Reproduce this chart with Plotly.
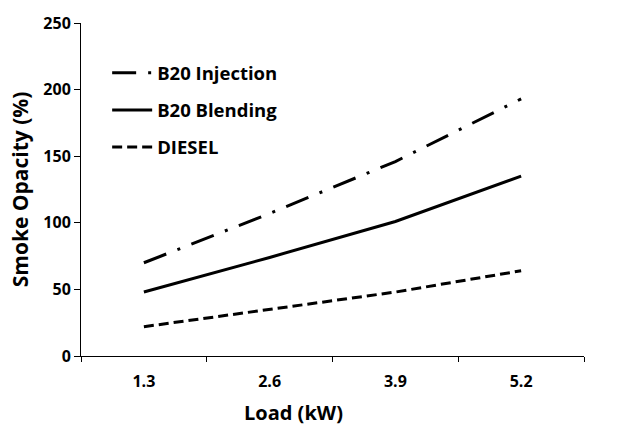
import plotly.graph_objects as go

loads = ["1.3", "2.6", "3.9", "5.2"]
b20_injection = [70, 107, 146, 193]
b20_blending = [48, 74, 101, 135]
diesel = [22, 35, 48, 64]
y_ticks = [0, 50, 100, 150, 200, 250]

FONT = "Open Sans"
fig = go.Figure()
series = [
    ("B20 Injection", b20_injection, "24px,12px,3px,12px"),
    ("B20 Blending", b20_blending, "solid"),
    ("DIESEL", diesel, "10px,5px"),
]
for name, vals, dash in series:
    fig.add_trace(go.Scatter(
        x=loads, y=vals, name=name, mode="lines", legendgroup=name,
        line=dict(color="black", width=3, dash=dash),
    ))

fig.update_layout(
    width=631, height=426,
    margin=dict(l=81, r=47, t=20, b=70),
    paper_bgcolor="white", plot_bgcolor="white",
    font=dict(family=FONT, color="black"),
    showlegend=True,
    legend=dict(
        x=0.052, y=0.906, xanchor="left", yanchor="top",
        font=dict(family=FONT, size=18.5, color="black", weight="bold"),
        itemwidth=40, tracegroupgap=10, bgcolor="rgba(0,0,0,0)",
    ),
    xaxis=dict(
        type="category", showline=True, linecolor="black", linewidth=1,
        ticks="outside", tickson="boundaries", ticklen=5, tickcolor="black",
        tickfont=dict(family=FONT, size=16, color="black", weight="bold"),
        ticklabelstandoff=11,
        showgrid=False, zeroline=False, range=[-0.5, 3.5],
    ),
    yaxis=dict(
        range=[0, 250], tickvals=y_ticks, showline=True, linecolor="black",
        linewidth=1, ticks="outside", ticklen=6, tickcolor="black",
        tickfont=dict(family=FONT, size=16, color="black", weight="bold"),
        showgrid=False, zeroline=False,
        title=dict(text="Smoke Opacity (%)", standoff=8,
                   font=dict(family=FONT, size=21, color="black", weight="bold")),
    ),
    annotations=[dict(
        text="Load (kW)", xref="paper", yref="paper", x=0.423, y=-0.17,
        xanchor="center", yanchor="middle", showarrow=False,
        font=dict(family=FONT, size=20, color="black", weight="bold"),
    )],
)

fig.write_html("out.html")
